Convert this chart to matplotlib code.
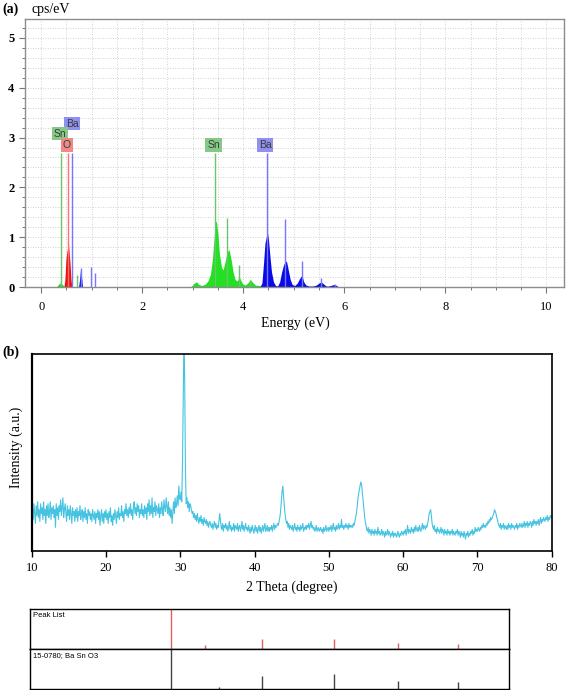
import matplotlib
matplotlib.use("Agg")
import matplotlib.pyplot as plt
from matplotlib.ticker import MultipleLocator
import numpy as np

# ---------------- data: (a) EDS spectrum ----------------
sn_m_energy = [0.30, 0.34, 0.37, 0.40, 0.43, 0.46]
sn_m_counts = [0.0, 0.05, 0.08, 0.07, 0.04, 0.0]

o_energy = [0.45, 0.47, 0.49, 0.51, 0.53, 0.54, 0.55, 0.57, 0.59, 0.61]
o_counts = [0.0, 0.15, 0.55, 0.72, 0.80, 0.90, 0.75, 0.50, 0.15, 0.0]

ba_m_energy = [0.74, 0.76, 0.78, 0.80, 0.82]
ba_m_counts = [0.0, 0.15, 0.36, 0.20, 0.0]

sn_l_energy = [2.95, 3.00, 3.04, 3.08, 3.12, 3.18, 3.25, 3.30, 3.35, 3.39, 3.42, 3.45,
               3.47, 3.50, 3.53, 3.57, 3.60, 3.64, 3.68, 3.72, 3.76, 3.80, 3.84, 3.88,
               3.92, 3.95, 3.99, 4.04, 4.09, 4.14, 4.18, 4.24, 4.32, 4.40, 4.45]
sn_l_counts = [0.0, 0.04, 0.09, 0.10, 0.05, 0.03, 0.06, 0.12, 0.25, 0.55, 0.95, 1.30,
               1.32, 1.05, 0.65, 0.40, 0.34, 0.50, 0.70, 0.75, 0.55, 0.30, 0.15, 0.12,
               0.20, 0.14, 0.06, 0.04, 0.08, 0.15, 0.10, 0.04, 0.03, 0.04, 0.0]

ba_l_energy = [4.33, 4.37, 4.40, 4.43, 4.46, 4.48, 4.50, 4.53, 4.56, 4.60, 4.64, 4.68,
               4.72, 4.76, 4.80, 4.84, 4.86, 4.89, 4.93, 4.97, 5.02, 5.07, 5.11, 5.15,
               5.17, 5.20, 5.24, 5.30, 5.38, 5.45, 5.50, 5.54, 5.58, 5.64, 5.70, 5.76,
               5.81, 5.86, 5.90]
ba_l_counts = [0.0, 0.08, 0.45, 0.88, 1.02, 1.09, 0.95, 0.60, 0.30, 0.10, 0.03, 0.02,
               0.10, 0.30, 0.45, 0.52, 0.50, 0.35, 0.15, 0.05, 0.03, 0.08, 0.16, 0.22,
               0.20, 0.10, 0.04, 0.02, 0.02, 0.04, 0.08, 0.10, 0.07, 0.02, 0.02, 0.04,
               0.05, 0.02, 0.0]

marker_energy = [0.40, 0.53, 0.61, 0.70, 0.79, 0.98, 1.06, 3.45, 3.67, 3.91, 4.13,
                 4.47, 4.83, 5.16, 5.54, 5.81]
marker_height = [2.68, 2.68, 2.68, 0.25, 0.38, 0.40, 0.28, 2.68, 1.39, 0.44, 0.15,
                 2.68, 1.36, 0.53, 0.19, 0.06]
marker_element = ["Sn", "O", "Ba", "Sn", "Ba", "Ba", "Ba", "Sn", "Sn", "Sn", "Sn",
                  "Ba", "Ba", "Ba", "Ba", "Ba"]

label_text = ["Ba", "Sn", "O", "Sn", "Ba"]
label_energy = [0.61, 0.37, 0.51, 3.41, 4.43]
label_level = [3.28, 3.08, 2.85, 2.85, 2.85]

# ---------------- data: (b) XRD pattern ----------------
xrd_intensity = [
    88, 22, 16, 24, 19, 14, 23, 18, 25, 17,
    21, 15, 24, 19, 22, 16, 25, 18, 21, 14,
    23, 18, 24, 17, 20, 25, 16, 22, 19, 23,
    17, 21, 12, 24, 18, 22, 16, 23, 20, 26,
    18, 22, 27, 17, 21, 24, 19, 15, 23, 18,
    21, 16, 23, 19, 14, 22, 18, 20, 15, 21,
    17, 22, 15, 20, 18, 23, 16, 19, 21, 15,
    20, 17, 22, 16, 19, 14, 21, 18, 20, 16,
    19, 15, 21, 18, 16, 20, 14, 19, 17, 21,
    16, 20, 13, 18, 21, 15, 19, 14, 20, 17,
    21, 16, 19, 14, 20, 17, 22, 15, 18, 13,
    19, 16, 21, 18, 14, 20, 17, 22, 16, 19,
    18, 23, 17, 20, 15, 21, 19, 24, 18, 21,
    17, 22, 19, 24, 18, 21, 16, 23, 25, 19,
    22, 18, 24, 20, 23, 17, 21, 19, 24, 18,
    21, 17, 23, 19, 22, 16, 24, 20, 26, 18,
    23, 19, 27, 17, 22, 20, 25, 18, 23, 21,
    19, 24, 17, 22, 19, 25, 21, 18, 26, 22,
    20, 27, 23, 19, 25, 18, 22, 17, 21, 14,
    20, 25, 19, 27, 22, 24, 28, 23, 33, 27,
    26, 30, 25, 45, 80, 110, 85, 40, 24, 27,
    22, 25, 20, 24, 23, 21, 19, 20, 17, 19,
    16, 18, 15, 19, 16, 14, 17, 15, 18, 14,
    16, 13, 17, 15, 14, 16, 13, 15, 12, 14,
    15, 13, 12, 14, 11, 13, 15, 12, 14, 11,
    13, 12, 15, 19, 16, 12, 11, 14, 10, 13,
    12, 14, 11, 13, 10, 12, 15, 11, 13, 10,
    12, 11, 14, 10, 13, 12, 11, 14, 10, 12,
    13, 10, 12, 15, 11, 13, 10, 12, 14, 11,
    12, 10, 13, 11, 9, 12, 10, 13, 11, 9,
    11, 13, 10, 12, 9, 11, 13, 10, 12, 9,
    11, 13, 10, 12, 14, 10, 11, 13, 10, 12,
    10, 12, 11, 13, 10, 12, 14, 11, 13, 12,
    13, 14, 13, 15, 17, 20, 25, 30, 33, 28,
    23, 19, 16, 14, 15, 12, 14, 11, 13, 12,
    11, 13, 10, 12, 14, 11, 12, 10, 13, 11,
    12, 10, 13, 11, 12, 14, 10, 12, 11, 13,
    11, 13, 12, 14, 11, 13, 15, 12, 13, 11,
    12, 10, 11, 13, 10, 11, 12, 10, 11, 12,
    10, 11, 9, 12, 10, 11, 13, 10, 11, 12,
    10, 12, 11, 13, 10, 12, 14, 11, 12, 10,
    13, 11, 12, 14, 11, 13, 12, 16, 12, 13,
    11, 13, 12, 14, 12, 13, 11, 14, 12, 13,
    12, 13, 12, 14, 13, 15, 17, 19, 22, 26,
    29, 31, 33, 35, 34, 30, 26, 22, 18, 15,
    13, 11, 10, 12, 9, 11, 10, 8, 11, 9,
    10, 8, 11, 9, 10, 8, 12, 9, 10, 8,
    9, 11, 8, 10, 9, 7, 10, 8, 9, 11,
    8, 10, 9, 7, 9, 8, 10, 7, 9, 8,
    9, 7, 8, 10, 8, 7, 9, 8, 10, 9,
    8, 10, 9, 11, 8, 10, 13, 9, 11, 10,
    9, 12, 10, 11, 9, 12, 10, 13, 11, 10,
    12, 10, 13, 11, 10, 12, 14, 11, 13, 12,
    11, 13, 12, 14, 16, 19, 20, 21, 18, 14,
    12, 11, 13, 10, 11, 9, 12, 10, 11, 9,
    10, 12, 9, 11, 10, 8, 11, 9, 10, 8,
    11, 9, 10, 8, 10, 9, 11, 8, 10, 9,
    8, 10, 9, 11, 8, 10, 9, 7, 10, 8,
    9, 7, 10, 8, 6, 9, 8, 10, 7, 9,
    8, 10, 9, 11, 8, 10, 9, 12, 10, 11,
    10, 12, 11, 10, 12, 11, 13, 12, 14, 12,
    13, 12, 14, 13, 15, 14, 16, 15, 17, 16,
    17, 18, 19, 21, 20, 19, 17, 16, 14, 13,
    12, 14, 11, 13, 12, 14, 11, 13, 12, 11,
    13, 11, 14, 12, 13, 11, 14, 12, 13, 12,
    11, 13, 12, 14, 11, 13, 12, 14, 13, 12,
    14, 12, 13, 15, 12, 14, 13, 15, 12, 14,
    13, 15, 14, 12, 15, 13, 16, 14, 15, 13,
    15, 14, 16, 13, 15, 17, 14, 16, 15, 17,
    16, 15, 17, 16, 18, 15, 17, 16, 18, 17,
    18,
]
two_theta = np.linspace(10, 80, len(xrd_intensity))

# ---------------- data: (c) stick patterns ----------------
peak_2theta = [30.5, 35.5, 43.9, 54.5, 63.9, 72.8]
peak_rel = [1.0, 0.10, 0.26, 0.26, 0.15, 0.13]
ref_2theta = [30.5, 37.6, 43.9, 54.5, 63.9, 72.8]
ref_rel = [1.0, 0.05, 0.33, 0.38, 0.20, 0.18]

# ---------------- figure ----------------
W, H = 567, 690
fig = plt.figure(figsize=(W / 100, H / 100), dpi=100)
SERIF = "Liberation Serif"
SANS = "Liberation Sans"


def rect(l, t, r, b):
    return [l / W, 1 - b / H, (r - l) / W, (b - t) / H]


# ----- panel (a) -----
axA = fig.add_axes(rect(25, 19, 564, 287))
axA.set_xlim(-0.32, 10.35)
axA.set_ylim(0, 5.38)
axA.xaxis.set_major_locator(MultipleLocator(2))
axA.xaxis.set_minor_locator(MultipleLocator(0.5))
axA.yaxis.set_major_locator(MultipleLocator(1))
axA.yaxis.set_minor_locator(MultipleLocator(0.2))
axA.grid(which="both", ls=(0, (1, 2)), color="#c4c4c4", lw=0.6)
axA.set_axisbelow(True)
for s in axA.spines.values():
    s.set_color("#8c8c8c")
    s.set_linewidth(1.0)
axA.tick_params(which="major", direction="out", length=4, width=0.8, color="#777777")
axA.tick_params(which="minor", direction="out", length=2.5, width=0.7, color="#777777")
axA.tick_params(axis="x", which="major", pad=6)
for lab in axA.get_yticklabels():
    lab.set_fontfamily(SERIF)
    lab.set_fontweight("bold")
    lab.set_fontsize(9)
for lab in axA.get_xticklabels():
    lab.set_fontfamily(SERIF)
    lab.set_fontsize(9)

line_colors = {"Sn": "#6cc46c", "O": "#ff7070", "Ba": "#7676ff"}
box_colors = {"Sn": "#86c986", "O": "#f08a8a", "Ba": "#9090ee"}

axA.fill_between(sn_m_energy, sn_m_counts, color="#22dd22", lw=0)
axA.fill_between(o_energy, o_counts, color="#ee1111", lw=0)
axA.fill_between(ba_m_energy, ba_m_counts, color="#1111ee", lw=0)
axA.fill_between(sn_l_energy, sn_l_counts, color="#22e022", lw=0)
axA.fill_between(ba_l_energy, ba_l_counts, color="#0a0ae6", lw=0)

for e, h, el in zip(marker_energy, marker_height, marker_element):
    axA.vlines(e, 0, h, color=line_colors[el], lw=1.0)

for t, e, lv in zip(label_text, label_energy, label_level):
    axA.text(e, lv, t, fontsize=7.5, fontfamily=SANS, color="#3a3a3a",
             ha="center", va="center",
             bbox=dict(boxstyle="square,pad=0.18", fc=box_colors[t], ec="none"))

fig.text(2 / W, 1 - 9 / H, "(a)", fontfamily=SERIF, fontweight="bold",
         fontsize=10, va="center", ha="left")
fig.text(32 / W, 1 - 9 / H, "cps/eV", fontfamily=SERIF, fontsize=10,
         va="center", ha="left")
fig.text(295 / W, 1 - 323 / H, "Energy (eV)", fontfamily=SERIF, fontsize=10,
         va="center", ha="center")

# ----- panel (b) -----
axB = fig.add_axes(rect(31.7, 354, 551.7, 551))
axB.plot(two_theta, xrd_intensity, color="#45c3e0", lw=0.8)
axB.set_xlim(10, 80)
axB.set_ylim(0, 100)
axB.set_yticks([])
axB.xaxis.set_major_locator(MultipleLocator(10))
for s in axB.spines.values():
    s.set_color("black")
    s.set_linewidth(1.2)
axB.spines["left"].set_linewidth(1.6)
axB.tick_params(axis="x", direction="out", length=4, width=1.0, pad=4)
for lab in axB.get_xticklabels():
    lab.set_fontfamily(SERIF)
    lab.set_fontsize(9)
fig.text(2 / W, 1 - 352 / H, "(b)", fontfamily=SERIF, fontweight="bold",
         fontsize=10, va="center", ha="left")
fig.text(16 / W, 1 - 447 / H, "Intensity (a.u.)", fontfamily=SERIF, fontsize=10,
         va="center", ha="center", rotation=90)
fig.text(292 / W, 1 - 587 / H, "2 Theta (degree)", fontfamily=SERIF, fontsize=10,
         va="center", ha="center")

# ----- panel (c) -----
axC1 = fig.add_axes(rect(30, 609, 509, 649))
axC2 = fig.add_axes(rect(30, 649, 509, 689))
for ax in (axC1, axC2):
    ax.set_xlim(9.7, 80.3)
    ax.set_ylim(0, 1)
    ax.set_xticks([])
    ax.set_yticks([])
    for s in ax.spines.values():
        s.set_color("black")
        s.set_linewidth(1.0)
axC1.vlines(peak_2theta, 0, peak_rel, color="#e06060", lw=1.0)
axC2.vlines(ref_2theta, 0, ref_rel, color="#444444", lw=1.0)
axC1.text(0.006, 0.93, "Peak List", transform=axC1.transAxes, fontsize=5.5,
          fontfamily=SANS, va="top", ha="left")
axC2.text(0.006, 0.93, "15-0780; Ba Sn O3", transform=axC2.transAxes, fontsize=5.5,
          fontfamily=SANS, va="top", ha="left")

fig.savefig("out.png", dpi=100)
